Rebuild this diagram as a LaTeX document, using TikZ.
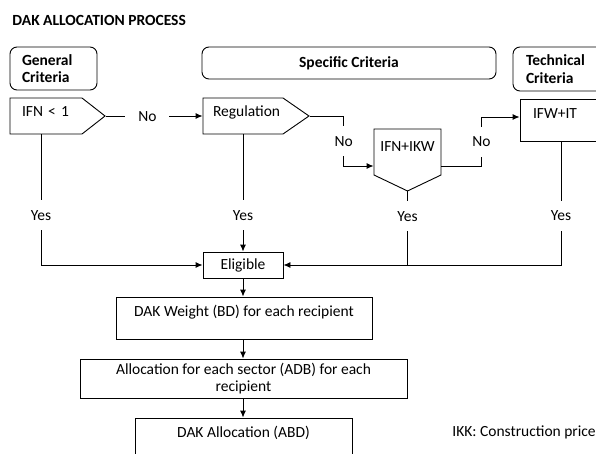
\documentclass[tikz,border=0pt]{standalone}
\usepackage{fontspec}
\setmainfont{Carlito}
\usetikzlibrary{shapes.symbols,arrows.meta}

\begin{document}
\begin{tikzpicture}[x=1pt, y=-1pt, line width=0.9pt, >={Latex[length=7pt,width=6pt]},
        font=\fontsize{15.5}{17.5}\selectfont,
        crit/.style={draw, rectangle, rounded corners=7pt, inner sep=0pt, font=\fontsize{15.5}{17.5}\selectfont\bfseries},
        proc/.style={draw, rectangle, inner sep=0pt},
        upper/.style={text height=11.5pt, text depth=15.5pt},
        test/.style={draw, signal, inner xsep=#1, inner ysep=7pt, text height=11pt, text depth=11pt},
        answer/.style={fill=white, inner xsep=13pt, inner ysep=7pt, text height=13pt, text depth=3pt}]
        \useasboundingbox (0,0) rectangle (596,453);

        % Title
        \node[anchor=west, inner sep=0pt, font=\fontsize{15.5}{17.5}\selectfont\bfseries] (title) at (12,20) {DAK ALLOCATION PROCESS};

        % Criteria headers
        \node[crit, minimum width=87pt, minimum height=43pt, text width=63pt, align=left] (general) at (53.5,68.5) {General\\Criteria};
        \node[crit, minimum width=294pt, minimum height=32pt] (specific) at (349,63) {Specific Criteria};
        \node[crit, minimum width=97pt, minimum height=44pt, text width=71pt, align=left] (technical) at (561.5,69) {Technical\\Criteria};

        % Tests
        \node[test=12pt, signal pointer angle=76, text width=48pt, align=left] (ifn) at (46,116) {IFN < 1};
        \node[test=10pt, signal pointer angle=69.4, text width=60pt, align=left] (regulation) at (243,116) {Regulation};
        \node[test=5pt, signal to=south, signal pointer angle=129, inner ysep=11pt, text depth=13pt, text width=57pt, align=center] (ikw) at (407.5,152) {IFN+IKW};
        \node[proc, upper, minimum width=82pt, minimum height=42pt, text width=56pt, align=left] (ifwit) at (561,120) {IFW+IT};

        % Eligible
        \node[proc, minimum width=80pt, minimum height=26pt] (eligible) at (243,265) {Eligible};

        % Weight, sector and allocation
        \node[proc, upper, minimum width=256pt, minimum height=42pt] (weight) at (244,318) {DAK Weight (BD) for each recipient};
        \node[proc, minimum width=327pt, minimum height=39pt, align=center] (sector) at (243.5,378.5) {Allocation for each sector (ADB) for each\\recipient};
        \node[proc, upper, minimum width=217pt, minimum height=42pt] (allocation) at (243.5,439) {DAK Allocation (ABD)};

        % Note
        \node[anchor=west, inner sep=0pt] (note) at (452,432) {IKK: Construction price};

        % No arrows
        \draw[->] (ifn.east) -- node[answer, pos=0.43] {No} (regulation.west);
        \draw[->] (regulation.east) -- ++(34,0) |- node[answer, pos=0.25] {No} ([yshift=-14pt]ikw.west);
        \draw[->] ([yshift=-14pt]ikw.east) -- ++(40,0) |- node[answer, pos=0.25] {No} ([yshift=3pt]ifwit.west);

        % Yes arrows
        \draw[->] ([xshift=-5pt]ifn.south) |- node[answer, pos=0.31] {Yes} (eligible.west);
        \draw[->] (regulation.south) -- node[answer, pos=0.69] {Yes} (eligible.north);
        \draw[->] (ikw.south) |- node[answer, pos=0.17] {Yes} (eligible.east);
        \draw (ifwit.south) |- node[answer, pos=0.3] {Yes} (ikw.south |- eligible.east);

        % Down the chain
        \draw[->] (eligible.south) -- (eligible.south |- weight.north);
        \draw[->] (weight.south -| eligible.south) -- (eligible.south |- sector.north);
        \draw[->] (sector.south -| eligible.south) -- (eligible.south |- allocation.north);
    \end{tikzpicture}
\end{document}
